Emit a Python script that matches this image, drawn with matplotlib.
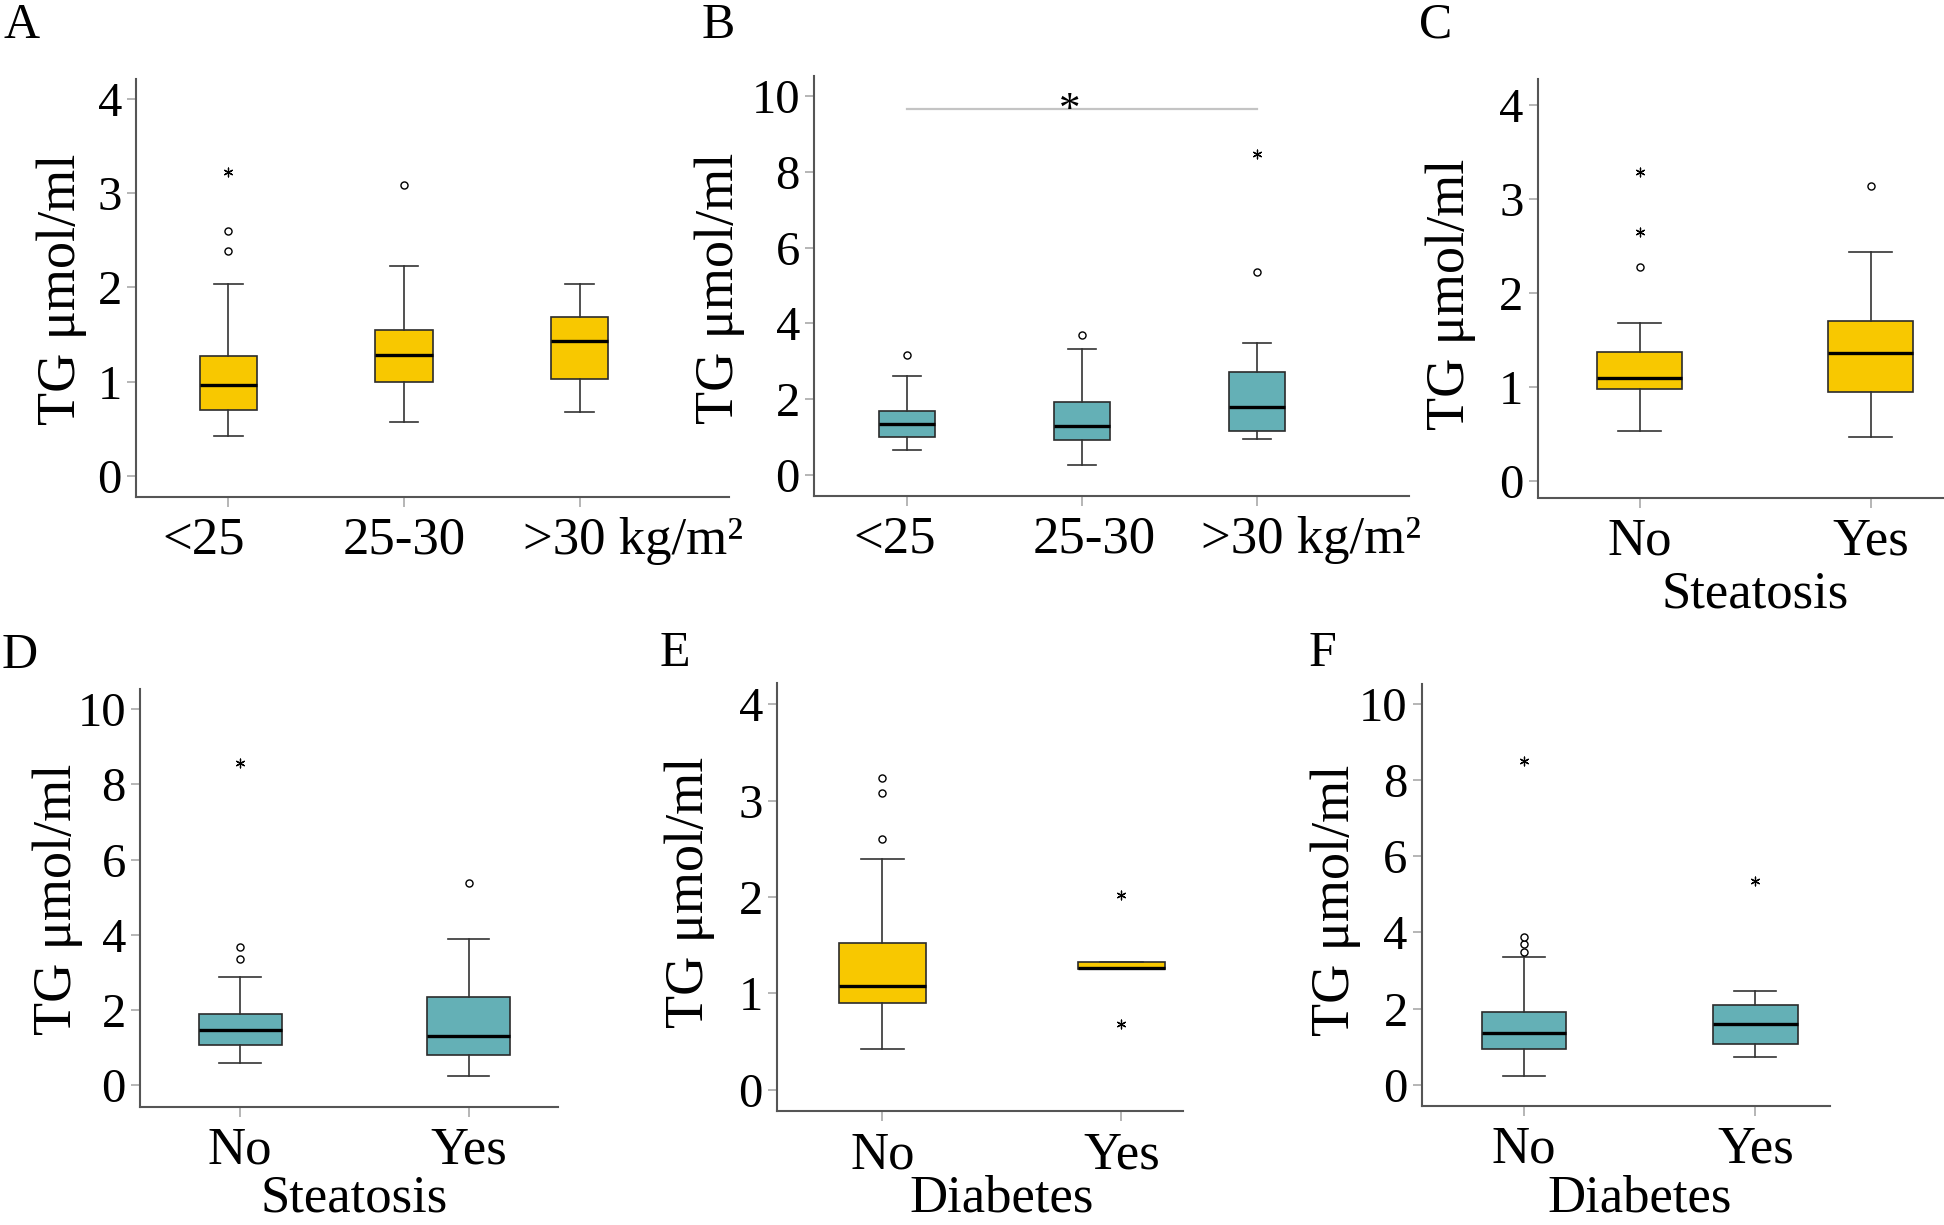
import matplotlib

matplotlib.use("Agg")
import matplotlib.pyplot as plt
from matplotlib.transforms import ScaledTranslation, blended_transform_factory

plt.rcParams["font.family"] = ["Liberation Serif", "DejaVu Serif"]

# ---- data (TG in umol/ml) ----
bmi_groups = ["<25", "25-30", ">30 kg/m²"]
yn_groups = ["No", "Yes"]

# A: BMI, yellow
a_q1 = [0.70, 1.00, 1.03]
a_med = [0.96, 1.285, 1.43]
a_q3 = [1.27, 1.55, 1.685]
a_wlo = [0.42, 0.57, 0.68]
a_whi = [2.04, 2.23, 2.03]
a_circles = [[2.39, 2.60], [3.08], []]
a_stars = [[3.22], [], []]

# B: BMI, teal
b_q1 = [0.985, 0.91, 1.16]
b_med = [1.33, 1.27, 1.78]
b_q3 = [1.67, 1.92, 2.71]
b_wlo = [0.65, 0.25, 0.93]
b_whi = [2.60, 3.33, 3.48]
b_circles = [[3.17], [3.69], [5.36]]
b_stars = [[], [], [8.48]]
b_sig_pair = (1, 3)
b_sig_y = 9.66

# C: steatosis, yellow
c_q1 = [0.98, 0.95]
c_med = [1.10, 1.37]
c_q3 = [1.38, 1.71]
c_wlo = [0.54, 0.47]
c_whi = [1.68, 2.44]
c_circles = [[2.28], [3.14]]
c_stars = [[2.65, 3.29], []]

# D: steatosis, teal
d_q1 = [1.07, 0.81]
d_med = [1.47, 1.31]
d_q3 = [1.90, 2.36]
d_wlo = [0.61, 0.24]
d_whi = [2.87, 3.90]
d_circles = [[3.35, 3.69], [5.37]]
d_stars = [[8.56], []]

# E: diabetes, yellow
e_q1 = [0.90, 1.25]
e_med = [1.07, 1.265]
e_q3 = [1.52, 1.32]
e_wlo = [0.42, 1.25]
e_whi = [2.39, 1.32]
e_circles = [[2.60, 3.08, 3.23], []]
e_stars = [[], [0.68, 2.02]]

# F: diabetes, teal
f_q1 = [0.93, 1.08]
f_med = [1.35, 1.59]
f_q3 = [1.92, 2.08]
f_wlo = [0.23, 0.72]
f_whi = [3.35, 2.47]
f_circles = [[3.49, 3.69, 3.89], []]
f_stars = [[8.51], [5.36]]

YELLOW = "#F8C800"
TEAL = "#64B0B6"

W, H = 1944, 1225
fig = plt.figure(figsize=(W / 100, H / 100), dpi=100)


def px_axes(left, top, right, bottom):
    return fig.add_axes([left / W, 1 - bottom / H, (right - left) / W, (bottom - top) / H])


def panel(rect, q1, med, q3, wlo, whi, circles, stars, color, width, xlim, ylim, yticks, labels):
    ax = px_axes(*rect)
    stats = [
        dict(q1=a, med=m, q3=b, whislo=lo, whishi=hi, fliers=[])
        for a, m, b, lo, hi in zip(q1, med, q3, wlo, whi)
    ]
    pos = list(range(1, len(stats) + 1))
    ax.bxp(stats, positions=pos, widths=width, capwidths=width / 2, patch_artist=True,
           showfliers=False,
           boxprops=dict(facecolor=color, edgecolor="#2b2b2b", linewidth=1.2),
           medianprops=dict(color="black", linewidth=2.4),
           whiskerprops=dict(color="#333333", linewidth=1.2),
           capprops=dict(color="#333333", linewidth=1.2))
    for p, vals in zip(pos, circles):
        if vals:
            ax.scatter([p] * len(vals), vals, marker="o", s=26, facecolors="white",
                       edgecolors="black", linewidths=1.0, zorder=3)
    for p, vals in zip(pos, stars):
        if vals:
            ax.scatter([p] * len(vals), vals, marker=(6, 2, 0), s=40,
                       color="black", linewidths=0.9, zorder=3)
    ax.set_xlim(*xlim)
    ax.set_ylim(*ylim)
    ax.set_yticks(yticks)
    ax.set_xticks(pos)
    ax.set_xticklabels(labels)
    for s in ("top", "right"):
        ax.spines[s].set_visible(False)
    for s in ("left", "bottom"):
        ax.spines[s].set_color("#555555")
        ax.spines[s].set_linewidth(1.5)
    ax.tick_params(axis="y", length=6.5, width=1.4, color="#b5b5b5", pad=3.6, labelsize=35)
    ax.tick_params(axis="x", length=7.5, width=1.4, color="#b5b5b5", pad=7.0, labelsize=38)
    return ax


ax_a = panel((136, 79, 729, 496.5), a_q1, a_med, a_q3, a_wlo, a_whi, a_circles, a_stars,
             YELLOW, 0.326, (0.475, 3.85), (-0.22, 4.21), [0, 1, 2, 3, 4], bmi_groups)
ax_b = panel((814, 75.5, 1408.5, 495.5), b_q1, b_med, b_q3, b_wlo, b_whi, b_circles, b_stars,
             TEAL, 0.32, (0.471, 3.864), (-0.555, 10.55), [0, 2, 4, 6, 8, 10], bmi_groups)
ax_c = panel((1537.5, 79.5, 1944, 497.5), c_q1, c_med, c_q3, c_wlo, c_whi, c_circles, c_stars,
             YELLOW, 0.367, (0.558, 2.318), (-0.17, 4.27), [0, 1, 2, 3, 4], yn_groups)
ax_d = panel((140, 688.7, 557.7, 1106.5), d_q1, d_med, d_q3, d_wlo, d_whi, d_circles, d_stars,
             TEAL, 0.364, (0.5615, 2.39), (-0.558, 10.54), [0, 2, 4, 6, 8, 10], yn_groups)
ax_e = panel((777, 682.5, 1182.5, 1111), e_q1, e_med, e_q3, e_wlo, e_whi, e_circles, e_stars,
             YELLOW, 0.365, (0.559, 2.256), (-0.223, 4.225), [0, 1, 2, 3, 4], yn_groups)
ax_f = panel((1421.7, 683.7, 1829.6, 1105.5), f_q1, f_med, f_q3, f_wlo, f_whi, f_circles, f_stars,
             TEAL, 0.363, (0.56, 2.32), (-0.55, 10.54), [0, 2, 4, 6, 8, 10], yn_groups)

# significance bracket in B
ax_b.plot(b_sig_pair, [b_sig_y, b_sig_y], color="#c4c4c4", linewidth=1.6)
ax_b.text(sum(b_sig_pair) / 2 - 0.07, b_sig_y - 0.32, "*", ha="center", va="baseline",
          fontsize=31)

# BMI tick labels sit a little off their ticks; the last one runs to the right
for ax, offsets in ((ax_a, (-25, 0, -57)), (ax_b, (-12, 12, -56))):
    for lab, dx in zip(ax.get_xticklabels(), offsets):
        lab.set_transform(lab.get_transform() + ScaledTranslation(dx / 100, 0, fig.dpi_scale_trans))
    ax.get_xticklabels()[-1].set_ha("left")

# panel letters
for letter, x, yb in (("A", 3, 38), ("B", 702, 38), ("C", 1419, 38),
                      ("D", 2, 668), ("E", 660, 666), ("F", 1309, 666)):
    fig.text(x / W, 1 - yb / H, letter, fontsize=36, ha="left", va="baseline")

# y labels
for cx, cy in ((61.5, 289), (720, 288.5), (1450.5, 294.5), (58, 899), (689.5, 892), (1336, 900)):
    fig.text(cx / W, 1 - cy / H, "TG μmol/ml", rotation=90, ha="center", va="center", fontsize=39)

# x labels
for ax, name, yb in ((ax_c, "Steatosis", 608), (ax_d, "Steatosis", 1212),
                     (ax_e, "Diabetes", 1212), (ax_f, "Diabetes", 1212)):
    tr = blended_transform_factory(ax.transData, fig.transFigure)
    ax.text(1.5, 1 - yb / H, name, transform=tr, ha="center", va="baseline", fontsize=38)

fig.savefig("out.png", dpi=100)
